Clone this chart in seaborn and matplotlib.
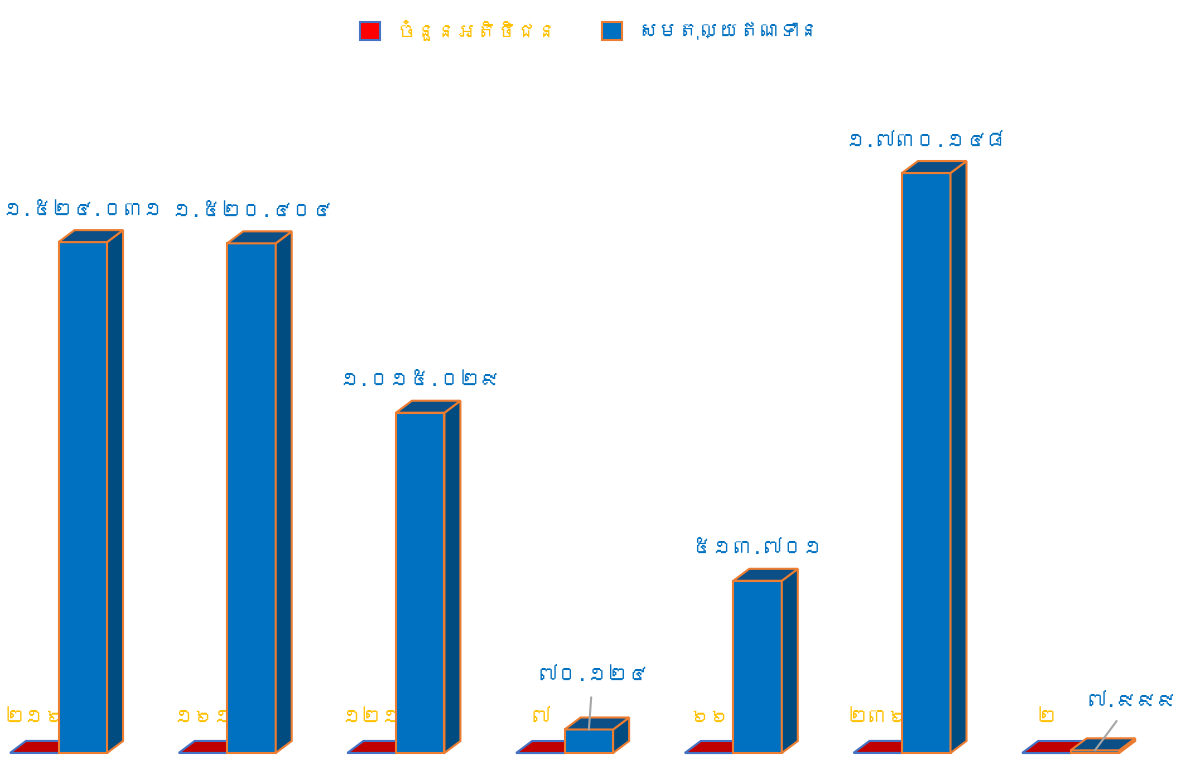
import pandas as pd
import seaborn as sns
import matplotlib.pyplot as plt
from matplotlib.patches import Polygon, Patch
from matplotlib import font_manager
from matplotlib.ft2font import FT2Font

# Data
series_names = ['ចំនួនអតិថិជន', 'សមតុល្យឥណទាន']
categories = ['1', '2', '3', '4', '5', '6', '7']
customers = [216, 161, 121, 7, 66, 236, 2]
balances = [1524031, 1520404, 1015029, 70124, 513701, 1730148, 7999]

khmer_digits = str.maketrans('0123456789,', '០១២៣៤៥៦៧៨៩.')


def khmer_num(v):
    return f'{v:,}'.translate(khmer_digits)


# find an installed font that has Khmer glyphs
def has_khmer(path):
    try:
        return 0x1780 in FT2Font(path).get_charmap()
    except Exception:
        return False


khmer_fonts = []
for f in font_manager.fontManager.ttflist:
    if f.name not in khmer_fonts and has_khmer(f.fname):
        khmer_fonts.append(f.name)

sns.set_style('white')
plt.rcParams['font.family'] = khmer_fonts[:1] + ['DejaVu Sans']

df = pd.DataFrame({
    'category': categories * 2,
    'series': [series_names[0]] * len(categories) + [series_names[1]] * len(categories),
    'value': customers + balances,
})

red_front, red_top, red_edge = '#C00000', '#C00000', '#4472C4'
blue_front, blue_top, blue_side, blue_edge = '#0070C0', '#0B4F86', '#004B7F', '#ED7D31'
yellow = '#FFC000'
fs = 14.5

fig = plt.figure(figsize=(11.79, 7.58), dpi=100)
ax = fig.add_axes([0, 0, 1, 1])
sns.barplot(data=df, x='category', y='value', hue='series', palette=[red_front, blue_front],
            width=0.575, gap=0, errorbar=None, legend=False, ax=ax)

ax.set_xlim(-0.347, 6.642)
ax.set_ylim(-14915, 2246261)
ax.axis('off')

# depth of the 3D effect in pixels
dx, dy = 16, 12
inv = ax.transData.inverted()


def add_3d(bars, front, top, side, edge, z):
    for bar in bars:
        bar.set_facecolor(front)
        bar.set_edgecolor(edge)
        bar.set_linewidth(1.5)
        bar.set_zorder(z)
        x0, y0 = bar.get_x(), bar.get_y()
        x1, y1 = x0 + bar.get_width(), y0 + bar.get_height()
        (px0, py0), (px1, py1) = ax.transData.transform([(x0, y0), (x1, y1)])
        top_pts = [(px0, py1), (px1, py1), (px1 + dx, py1 + dy), (px0 + dx, py1 + dy)]
        side_pts = [(px1, py0), (px1 + dx, py0 + dy), (px1 + dx, py1 + dy), (px1, py1)]
        ax.add_patch(Polygon(inv.transform(side_pts), closed=True, facecolor=side,
                             edgecolor=edge, linewidth=1.5, zorder=z))
        ax.add_patch(Polygon(inv.transform(top_pts), closed=True, facecolor=top,
                             edgecolor=edge, linewidth=1.5, zorder=z))


red_bars = ax.containers[0]
blue_bars = ax.containers[1]
add_3d(red_bars, red_front, red_top, red_top, red_edge, 2)
add_3d(blue_bars, blue_front, blue_top, blue_side, blue_edge, 3)

# customer count labels (partly hidden behind the blue bars)
for bar, v in zip(red_bars, customers):
    cx = bar.get_x() + bar.get_width() / 2
    ax.annotate(khmer_num(v), (cx, 0), xytext=(0, 36), textcoords='offset pixels',
                ha='center', va='center', color=yellow, fontsize=fs, zorder=2.5)

# balance labels
callouts = {3: (4, 55), 6: (37, 50)}
for i, (bar, v) in enumerate(zip(blue_bars, balances)):
    cx = bar.get_x() + bar.get_width() / 2
    top = bar.get_height()
    if i in callouts:
        ax.annotate(khmer_num(v), (cx, top), xytext=callouts[i], textcoords='offset pixels',
                    ha='center', va='center', color=blue_front, fontsize=fs, zorder=5,
                    arrowprops=dict(arrowstyle='-', color='#A6A6A6', lw=1.5,
                                    shrinkA=8, shrinkB=0))
    else:
        ax.annotate(khmer_num(v), (cx, top), xytext=(0, 33), textcoords='offset pixels',
                    ha='center', va='center', color=blue_front, fontsize=fs, zorder=5)

handles = [Patch(facecolor='#FF0000', edgecolor=red_edge, linewidth=1.5),
           Patch(facecolor=blue_front, edgecolor=blue_edge, linewidth=1.5)]
leg = fig.legend(handles, series_names, loc='upper center', bbox_to_anchor=(0.5, 0.998),
                 ncol=2, frameon=False, fontsize=fs, handlelength=1.0, handleheight=1.0,
                 columnspacing=2.2, handletextpad=0.8)
leg.get_texts()[0].set_color(yellow)
leg.get_texts()[1].set_color(blue_front)

fig.savefig('out.png', dpi=100)
